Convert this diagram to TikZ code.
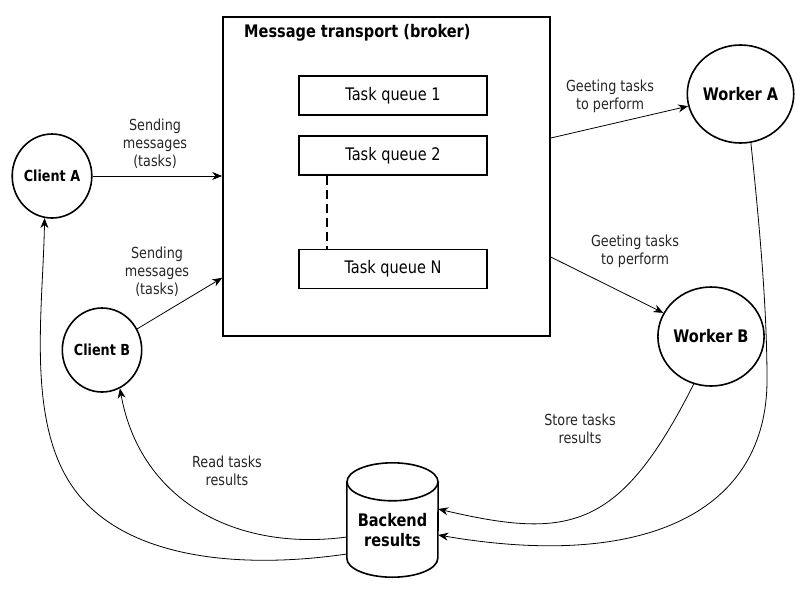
\documentclass[tikz,border=0pt]{standalone}
\usepackage{fontspec}
\setmainfont{DejaVu Sans}[FakeStretch=0.84]
\usetikzlibrary{arrows.meta,calc,shapes.geometric}
\begin{document}
\begin{tikzpicture}[x=1pt,y=-1pt,
  lbl/.style={font=\fontsize{15.2}{18}\selectfont, align=center, inner sep=0, text=black!85},
  queue/.style={draw, line width=1.6pt, minimum width=188pt, minimum height=39pt, inner sep=0, font=\fontsize{17.3}{20}\selectfont},
  actor/.style={draw, ellipse, line width=1.6pt, inner sep=0, font=\bfseries\fontsize{17.3}{20}\selectfont},
  smallactor/.style={actor, font=\bfseries\fontsize{15.2}{18}\selectfont},
  conn/.style={line width=0.8pt, -{Stealth[length=10pt,width=8pt]}},
  dashline/.style={line width=1.6pt, dash pattern=on 9pt off 5pt},
  frame/.style={line width=1.6pt}
]
\useasboundingbox (0,0) rectangle (800,600);
\fill[white] (0,0) rectangle (800,600);

% broker
\node[draw, frame, minimum width=327pt, minimum height=319pt, inner sep=0] (broker) at (386.5,176.5) {};
\node[font=\bfseries\fontsize{17.3}{20}\selectfont, anchor=base west, inner sep=0] (title) at (244,37) {Message transport (broker)};
\node[queue] (q1) at (393,95.5) {Task queue 1};
\node[queue] (q2) at (393,155.5) {Task queue 2};
\node[queue] (qn) at (393,269) {Task queue N};
\draw[dashline] ([xshift=-66pt]q2.south) -- ([xshift=-66pt]qn.north);

% actors
\node[smallactor, minimum width=78pt, minimum height=84pt] (clientA) at (52,176) {Client A};
\node[smallactor, minimum width=76pt, minimum height=84pt] (clientB) at (102,350) {Client B};
\node[actor, minimum width=93pt, minimum height=98pt] (workerA) at (740.5,94) {Worker A};
\node[actor, minimum width=92pt, minimum height=99pt] (workerB) at (711,336.5) {Worker B};

% backend cylinder
\node[minimum width=91pt, minimum height=114pt, inner sep=0] (backend) at (392.5,520) {};
\draw[frame] ($(backend.north)+(0,19)$) ellipse [x radius=45.5pt, y radius=19pt];
\draw[frame] ($(backend.north west)+(0,19)$) -- ($(backend.south west)+(0,-19)$)
  arc[start angle=180, end angle=360, x radius=45.5pt, y radius=19pt]
  -- ($(backend.north east)+(0,19)$);
\node[font=\bfseries\fontsize{17.3}{20}\selectfont, align=center, inner sep=0] (backendlbl) at (392.5,530) {Backend\\results};

% straight connectors
\coordinate (inB) at ([yshift=59pt]broker.south west);
\coordinate (outA) at ([yshift=38.5pt]broker.east);
\coordinate (outB) at ([yshift=-80.5pt]broker.east);
\draw[conn] (clientA) -- (broker.west |- clientA);
\draw[conn] (clientB) -- (inB);
\draw[conn] (outA) -- (workerA);
\draw[conn] (outB) -- (workerB);

% curved connectors
\coordinate (bR1) at ([yshift=11pt]backend.east);
\coordinate (bR2) at ([yshift=-15pt]backend.east);
\coordinate (bL1) at ([yshift=-17pt]backend.west);
\coordinate (bL2) at ([yshift=-34pt]backend.west);
\coordinate (viaA) at (70,483);
\coordinate (viaW) at (767,380);
\draw[conn] (bL2) .. controls (237,570) and (118.6,558.6) .. (viaA)
  .. controls (26.8,415.8) and (43,308) .. (clientA.260);
\draw[conn] (bL1) .. controls (235,552) and (140,500) .. (clientB.295);
\draw[conn] (workerB.250) .. controls (620,530) and (570,540) .. (bR1);
\draw[conn] (workerA.282) .. controls (760,230) and (767,310) .. (viaW)
  .. controls (767,510) and (648,571) .. (bR2);

% labels
\node[lbl] (l1) at (155,143.5) {Sending\\messages\\(tasks)};
\node[lbl] (l2) at (157,272) {Sending\\messages\\(tasks)};
\node[lbl] (l3) at (610,96) {Geeting tasks\\to perform};
\node[lbl] (l4) at (635,251) {Geeting tasks\\to perform};
\node[lbl] (l5) at (580,429) {Store tasks\\results};
\node[lbl] (l6) at (227,471) {Read tasks\\results};
\end{tikzpicture}
\end{document}
